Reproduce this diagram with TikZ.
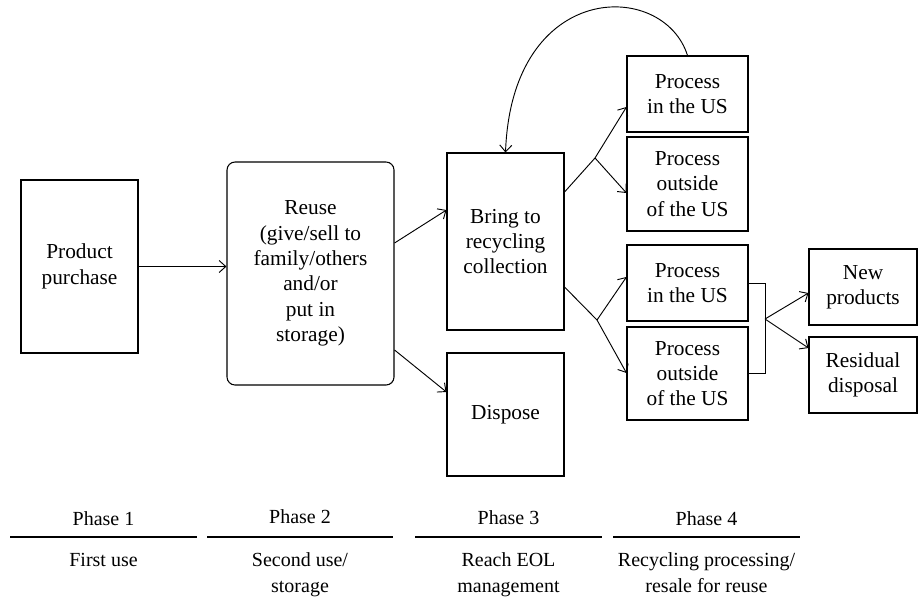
\documentclass[tikz,border=0pt]{standalone}
\usepackage{fontspec}
\setmainfont{Liberation Serif}
\usetikzlibrary{positioning,calc,arrows.meta}

\tikzset{
  box/.style={draw, line width=0.8pt, align=center, inner sep=1pt,
    font=\fontsize{16}{19}\selectfont},
  rbox/.style={box, rounded corners=6pt},
  phase/.style={font=\fontsize{15}{19.5}\selectfont, align=center},
  rule/.style={line width=1.1pt},
}

\begin{document}
\begin{tikzpicture}[x=0.75pt, y=-0.75pt, line width=0.7pt,
    >={Straight Barb[length=5pt,width=9pt]}]
      \useasboundingbox (0,0) rectangle (919,596);
      %% Phase 1 and 2
      \node[box, minimum width=87.75pt, minimum height=129.75pt] (prod) at (79.5,266.5) {Product\\purchase};
      \node[rbox, right of=prod, node distance=173.25pt, yshift=-5.25pt,
        minimum width=125.25pt, minimum height=167.25pt] (reuse)
        {Reuse\\(give/sell to\\family/others\\and/or\\put in\\storage)};
      %% Phase 3
      \node[box, right of=reuse, node distance=146.25pt, yshift=24pt,
        minimum width=87.75pt, minimum height=132.75pt] (bring) {Bring to\\recycling\\collection};
      \node[box, below of=bring, node distance=129.75pt,
        minimum width=87.75pt, minimum height=92.25pt] (dispose) {Dispose};
      %% Phase 4
      \node[box, right of=bring, node distance=136.5pt, yshift=110.625pt,
        minimum width=90.75pt, minimum height=57pt] (pa) {Process\\in the US};
      \node[box, below of=pa, node distance=67.5pt,
        minimum width=90.75pt, minimum height=70.5pt] (pb) {Process\\outside\\of the US};
      \node[box, below of=pb, node distance=74.25pt,
        minimum width=90.75pt, minimum height=57pt] (pc) {Process\\in the US};
      \node[box, below of=pc, node distance=67.875pt,
        minimum width=90.75pt, minimum height=69.75pt] (pd) {Process\\outside\\of the US};
      \node[box, right of=pc, node distance=131.625pt, yshift=-3pt,
        minimum width=81pt, minimum height=57pt] (newp) {New\\products};
      \node[box, below of=newp, node distance=66pt,
        minimum width=81pt, minimum height=57pt] (resid) {Residual\\disposal};
      %% fork points
      \coordinate (fk1) at (595,158);
      \coordinate (fk2) at (597,320);
      \coordinate (fk3) at (765,319);
      %% Arrows
      \draw[->] (prod.east) -- (prod.east -| reuse.west);
      \draw[->] ($(reuse.east)+(0,-30.5)$) -- ($(bring.west)+(0,-31.5)$);
      \draw[->] ($(reuse.east)+(0,76.5)$) -- ($(dispose.west)+(0,-22.5)$);
      \draw ($(bring.east)+(0,-49.5)$) -- (fk1);
      \draw[->] (fk1) -- ($(pa.west)+(0,13)$);
      \draw[->] (fk1) -- ($(pb.west)+(0,9)$);
      \draw ($(bring.east)+(0,45.5)$) -- (fk2);
      \draw[->] (fk2) -- ($(pc.west)+(0,-6)$);
      \draw[->] (fk2) -- ($(pd.west)+(0,-0.5)$);
      \draw (pc.east) -- ++(17,0) |- (pd.east);
      \draw[->] (fk3) -- ($(newp.west)+(0,6)$);
      \draw[->] (fk3) -- ($(resid.west)+(0,-27)$);
      %% Loop back
      \draw[->] (pa.north) .. controls +(-24,-76) and +(6.5,-173) .. (bring.north);
      %% Phases
      \node[phase] (ph1) at (103.5,519) {Phase 1};
      \node[phase] (ph2) at (300,517) {Phase 2};
      \node[phase] (ph3) at (508.5,518) {Phase 3};
      \node[phase] (ph4) at (706.5,519) {Phase 4};
      \draw[rule] (10,537) -- (197,537);
      \draw[rule] (207,537) -- (393,537);
      \draw[rule] (415,537) -- (602,537);
      \draw[rule] (613,537) -- (800,537);
      \node[phase, anchor=north] (use1) at (103.5,548) {First use};
      \node[phase, anchor=north] (use2) at (300,548) {Second use/\\storage};
      \node[phase, anchor=north] (use3) at (508.5,548) {Reach EOL\\management};
      \node[phase, anchor=north] (use4) at (706.5,548) {Recycling processing/\\resale for reuse};
\end{tikzpicture}
\end{document}
